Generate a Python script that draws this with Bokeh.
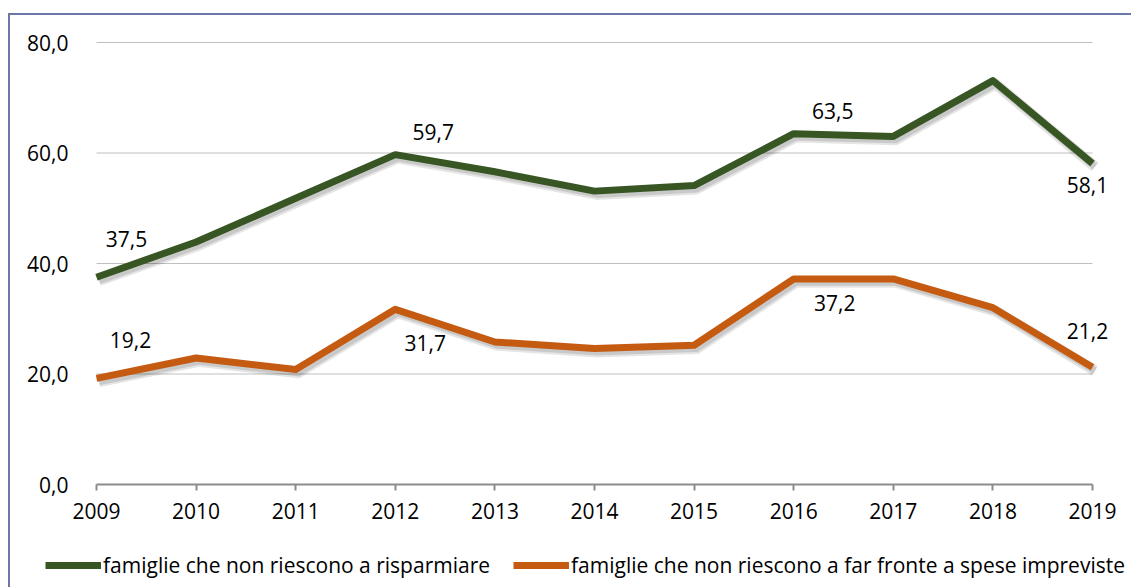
from bokeh.plotting import figure
from bokeh.models import (Range1d, CustomJSTickFormatter, FixedTicker, Legend, LegendItem,
                          ColumnDataSource)
from bokeh.core.properties import value
from bokeh.embed import file_html
from bokeh.resources import INLINE

years = [2009, 2010, 2011, 2012, 2013, 2014, 2015, 2016, 2017, 2018, 2019]
risparmiare = [37.5, 43.9, 51.8, 59.7, 56.6, 53.1, 54.1, 63.5, 63.0, 73.1, 58.1]
imprevisti = [19.2, 22.9, 20.8, 31.7, 25.8, 24.6, 25.2, 37.2, 37.2, 32.0, 21.2]
y_ticks = [0, 20, 40, 60, 80]

label_years_r = [2009, 2012, 2016, 2019]
label_years_i = [2009, 2012, 2016, 2019]
name_r = "famiglie che non riescono a risparmiare"
name_i = "famiglie che non riescono a far fronte a spese impreviste"

GREEN = "#375623"
ORANGE = "#c55a11"
BORDER = "#6b77a8"
FONT = "Open Sans"

# layout (pixels): plot area from x=96..1092, y=42..484 on a 1131x587 canvas
W, H = 1131, 587
PL, PR, PT, PB = 96, 1092, 42, 484
x0, x1 = years[0], years[-1]
y0, y1 = y_ticks[0], y_ticks[-1]
kx = (x1 - x0) / (PR - PL)
ky = (y1 - y0) / (PB - PT)
xr = Range1d(x0 - PL * kx, x1 + (W - PR) * kx)
yr = Range1d(y0 - (H - PB) * ky, y1 + PT * ky)

p = figure(width=W, height=H, output_backend="svg", toolbar_location=None,
           x_range=xr, y_range=yr,
           min_border_left=0, min_border_right=0, min_border_top=0, min_border_bottom=0)
p.outline_line_color = None
p.background_fill_color = None
p.border_fill_color = None
p.styles = {
    "background": (f"linear-gradient({BORDER},{BORDER}) 8px 13px / 2px 100% no-repeat, "
                   f"linear-gradient({BORDER},{BORDER}) 8px 13px / 100% 2px no-repeat, white"),
}

# grid lines (only across the plot area)
p.xgrid.visible = False
p.ygrid.visible = False
p.segment(x0=[x0] * len(y_ticks[1:]), x1=[x1] * len(y_ticks[1:]), y0=y_ticks[1:], y1=y_ticks[1:],
          line_color="#bfbfbf", line_width=1)

# axes
p.yaxis.fixed_location = x0
p.yaxis.ticker = FixedTicker(ticks=y_ticks)
p.yaxis.formatter = CustomJSTickFormatter(code="return tick.toFixed(1).replace('.', ',');")
p.yaxis.axis_line_color = None
p.yaxis.major_tick_line_color = None
p.yaxis.major_tick_in = 0
p.yaxis.major_tick_out = 0
p.yaxis.minor_tick_line_color = None
p.yaxis.minor_tick_out = 0
p.yaxis.major_label_standoff = 28
p.yaxis.major_label_text_font = FONT
p.yaxis.major_label_text_font_size = "21px"
p.yaxis.major_label_text_color = "#000000"

p.xaxis.fixed_location = y0
p.xaxis.bounds = (x0, x1)
p.xaxis.ticker = FixedTicker(ticks=years)
p.xaxis.axis_line_color = "#8c8c8c"
p.xaxis.axis_line_width = 2
p.xaxis.major_tick_line_color = "#8c8c8c"
p.xaxis.major_tick_line_width = 2
p.xaxis.major_tick_in = 0
p.xaxis.major_tick_out = 6
p.xaxis.minor_tick_line_color = None
p.xaxis.major_label_standoff = 12
p.xaxis.major_label_text_font = FONT
p.xaxis.major_label_text_font_size = "21px"
p.xaxis.major_label_text_color = "#000000"

# shadows
sh_dx, sh_dy = 0.025, -0.6
for series in (risparmiare, imprevisti):
    p.line([x + sh_dx for x in years], [v + sh_dy for v in series], line_color="#000000",
           line_alpha=0.10, line_width=11, line_join="round")
    p.line([x + sh_dx for x in years], [v + sh_dy for v in series], line_color="#000000",
           line_alpha=0.12, line_width=7, line_join="round")

r1 = p.line(years, risparmiare, line_color=GREEN, line_width=7, line_join="round", line_cap="butt")
r2 = p.line(years, imprevisti, line_color=ORANGE, line_width=7, line_join="round", line_cap="butt")

# data labels
lab_r = ColumnDataSource(dict(
    x=label_years_r,
    y=[risparmiare[years.index(yr)] for yr in label_years_r],
    xo=[30, 38, 39, -5],
    yo=[-38, -23, -23, 22],
))
lab_r.data["t"] = [("%.1f" % v).replace(".", ",") for v in lab_r.data["y"]]
lab_i = ColumnDataSource(dict(
    x=label_years_i,
    y=[imprevisti[years.index(yr)] for yr in label_years_i],
    xo=[34, 30, 41, -5],
    yo=[-38, 34, 24, -36],
))
lab_i.data["t"] = [("%.1f" % v).replace(".", ",") for v in lab_i.data["y"]]
for src in (lab_r, lab_i):
    p.text(x="x", y="y", text="t", x_offset="xo", y_offset="yo", source=src,
           text_font=value(FONT), text_font_size="21px", text_color="#000000",
           text_align="center", text_baseline="middle")

legend = Legend(items=[LegendItem(label=name_r, renderers=[r1]),
                       LegendItem(label=name_i, renderers=[r2])],
                orientation="horizontal", location=(45, 8),
                glyph_width=56, glyph_height=26, label_standoff=2, spacing=23,
                padding=0, margin=0, border_line_color=None, background_fill_alpha=0,
                label_text_font=FONT, label_text_font_size="21px", label_text_color="#000000",
                label_height=26)
p.add_layout(legend, "center")

open("out.html", "w").write(file_html(p, INLINE))
